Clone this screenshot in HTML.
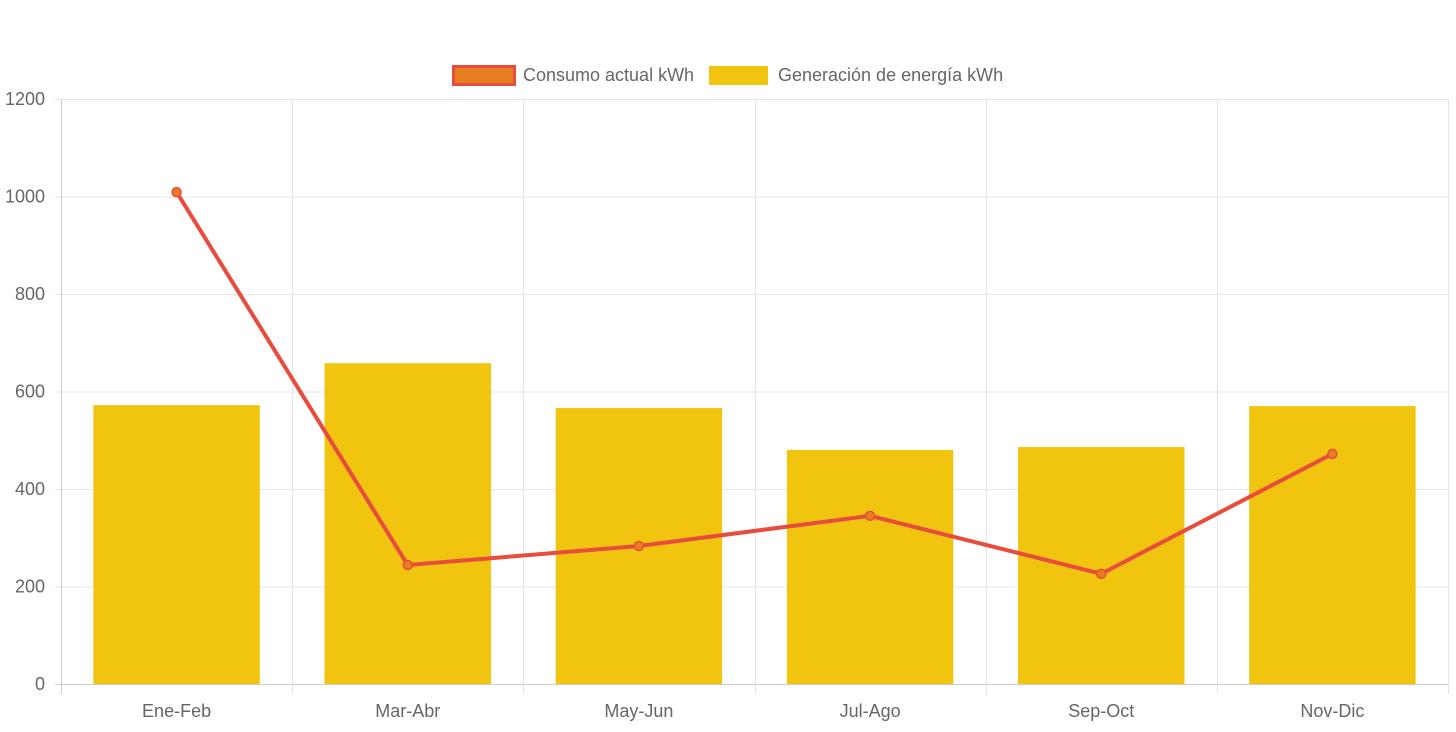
<!DOCTYPE html>
<html><head><meta charset="utf-8"><style>
body{margin:0;background:#fff;width:1456px;height:727px;overflow:hidden;font-family:"Liberation Sans",sans-serif}
svg text{font-family:"Liberation Sans",sans-serif;fill:#666;font-size:18px}
</style></head><body>
<svg id="c" width="1456" height="727"></svg>
<script>
const categories=["Ene-Feb","Mar-Abr","May-Jun","Jul-Ago","Sep-Oct","Nov-Dic"];
const generation=[572,658,566,480,486,570];
const consumption=[1009,244,283,345,226,472];
const yTicks=[0,200,400,600,800,1000,1200];
const L=61,R=1448,T=99,B=684,yMax=1200;
const ns="http://www.w3.org/2000/svg";
const svg=document.getElementById('c');
const cw=(R-L)/categories.length;
const xC=i=>L+cw*(i+0.5);
const y=v=>B-(v/yMax)*(B-T);
function mk(t,a,p){const e=document.createElementNS(ns,t);for(const k in a)e.setAttribute(k,a[k]);(p||svg).appendChild(e);return e;}
const grid=mk('g',{});


yTicks.forEach(v=>{
  mk('line',{x1:L-6,x2:R,y1:y(v)+.5,y2:y(v)+.5,stroke:v===0?'#ccc':'#e5e5e5'},grid);
  const t=mk('text',{x:45,y:y(v)+6,'text-anchor':'end'});t.textContent=v;
  
  
});
for(let i=0;i<=categories.length;i++){const x=Math.round(L+cw*i)+.5;mk('line',{x1:x,x2:x,y1:T,y2:B+10,stroke:i===0?'#ccc':'#e5e5e5'},grid);}
categories.forEach((c,i)=>{
  const t=mk('text',{x:xC(i),y:717,'text-anchor':'middle'});t.textContent=c;
  
  
  const bw=cw*0.72;
  const r=mk('rect',{x:xC(i)-bw/2,y:y(generation[i]),width:bw,height:B-y(generation[i]),fill:'#f1c40f'});
  
  
});
const pl=mk('polyline',{points:consumption.map((v,i)=>xC(i)+','+y(v)).join(' '),fill:'none',stroke:'#e74c3c','stroke-width':4,'stroke-linejoin':'round'});


consumption.forEach((v,i)=>{const c=mk('circle',{cx:xC(i),cy:y(v),r:4.5,fill:'#e67e22',stroke:'#e74c3c','stroke-width':1.5});
  
  });
const lg=mk('g',{});


const l1=mk('rect',{x:453.5,y:66.5,width:61,height:18,fill:'#e67e22',stroke:'#e74c3c','stroke-width':3},lg);


let t1=mk('text',{x:523,y:81},lg);t1.textContent='Consumo actual kWh';


const l2=mk('rect',{x:709,y:66,width:59,height:19,fill:'#f1c40f'},lg);


let t2=mk('text',{x:778,y:81},lg);t2.textContent='Generación de energía kWh';


</script>
</body></html>
